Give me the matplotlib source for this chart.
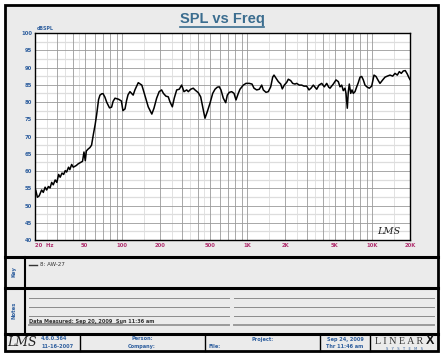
import matplotlib
matplotlib.use("Agg")
import matplotlib.pyplot as plt
from matplotlib.patches import Rectangle

# SPL response (Hz, dB SPL)
freq = [20.3, 20.9, 21.6, 22.6, 23.3, 24.1, 24.8, 25.6, 26.4, 27.2, 28.0, 29.0,
        29.9, 30.9, 31.8, 32.9, 33.9, 34.9, 35.8, 37.1, 38.0, 39.3, 40.5, 42.8,
        44.4, 47.0, 48.0, 49.3, 50.5, 51.5, 53.0, 55.0, 56.7, 58.6, 60.6, 62.3,
        64.5, 66.2, 68.6, 70.1, 72.5, 75.0, 78.9, 82.0, 84.3, 87.3, 93.2, 98.2,
        101, 105, 108, 111, 115, 122, 126, 134, 143, 147, 155, 161, 172, 179,
        188, 197, 206, 213, 223, 233, 240, 251, 260, 272, 285, 298, 311, 327,
        337, 352, 369, 381, 405, 423, 439, 458, 478, 502, 528, 551, 575, 596,
        615, 642, 671, 691, 717, 749, 782, 811, 846, 873, 928, 975, 1036, 1089,
        1130, 1187, 1246, 1302, 1341, 1409, 1470, 1537, 1594, 1633, 1694, 1768,
        1848, 1903, 1974, 2064, 2126, 2222, 2304, 2404, 2481, 2602, 2720, 2838,
        2982, 3112, 3228, 3368, 3476, 3586, 3741, 3932, 4126, 4312, 4474, 4582,
        4868, 5118, 5340, 5508, 5683, 5852, 6040, 6152, 6301, 6418, 6538, 6709,
        6871, 7038, 7262, 7492, 7716, 7962, 8216, 8462, 8730, 9108, 9450, 9876,
        10304, 10691, 11154, 11508, 12094, 12619, 13166, 13836, 14542, 15172,
        15830, 16424, 17038, 17678, 18342, 19030, 19526, 20000]
spl = [54.4, 52.4, 52.8, 54.5, 53.8, 55.3, 54.5, 55.5, 55.1, 56.7, 56.0, 57.4,
       56.7, 59.0, 58.2, 59.4, 59.0, 60.1, 59.7, 61.1, 60.4, 61.9, 61.1, 61.6,
       62.1, 62.6, 62.8, 65.5, 63.0, 65.8, 66.3, 66.8, 67.5, 70.6, 73.5, 76.4,
       80.7, 82.0, 82.4, 82.4, 81.4, 79.9, 78.3, 78.5, 80.2, 81.1, 80.8, 80.3,
       77.5, 78.0, 80.4, 82.1, 83.0, 82.0, 83.5, 85.6, 84.9, 83.5, 80.6, 78.6,
       76.5, 78.2, 81.1, 83.0, 83.5, 82.5, 81.7, 81.5, 80.1, 78.6, 81.1, 83.5,
       83.7, 84.9, 83.0, 83.5, 83.0, 83.7, 84.0, 83.5, 82.7, 81.5, 78.6, 75.3,
       77.2, 79.6, 82.5, 83.7, 84.3, 84.4, 83.5, 81.1, 79.8, 82.0, 82.8, 83.0,
       82.5, 80.6, 82.5, 83.7, 84.9, 85.4, 85.4, 85.2, 84.0, 83.5, 83.7, 84.9,
       83.5, 82.8, 83.0, 84.4, 87.2, 87.8, 86.9, 85.9, 85.2, 83.8, 84.9, 85.7,
       86.6, 86.2, 85.4, 85.2, 85.4, 84.9, 84.9, 84.6, 84.6, 83.5, 84.0, 84.9,
       84.3, 83.7, 84.9, 85.4, 84.4, 85.4, 84.3, 84.0, 85.2, 86.4, 85.9, 84.4,
       84.9, 83.3, 84.0, 82.5, 78.2, 83.0, 85.2, 82.5, 83.5, 82.5, 83.0, 84.4,
       85.6, 87.2, 87.4, 86.4, 84.9, 84.3, 84.0, 84.6, 87.8, 87.4, 86.2, 85.4,
       86.4, 87.2, 87.5, 87.8, 87.5, 88.3, 87.8, 88.8, 88.3, 89.0, 89.1, 88.1,
       87.2, 86.5]

y_ticks = list(range(40, 101, 5))
x_ticks = [20, 50, 100, 200, 500, 1000, 2000, 5000, 10000, 20000]
x_tick_labels = ['20  Hz', '50', '100', '200', '500', '1K', '2K', '5K', '10K', '20K']

blue = '#2f5f9e'
title_blue = '#3b6d8f'
red = '#b0306e'
bg = '#ebebeb'

fig = plt.figure(figsize=(4.45, 3.56), dpi=100)
fig.patch.set_facecolor('white')

# page drawn in pixel coordinates
page = fig.add_axes([0, 0, 1, 1])
page.set_xlim(0, 445)
page.set_ylim(356, 0)
page.axis('off')
page.add_patch(Rectangle((5, 5), 433, 346, facecolor=bg, edgecolor='black', lw=2))
for y in (257, 287.5, 334):
    page.plot([5, 438], [y, y], color='black', lw=2.2)
page.plot([25, 25], [257, 334], color='black', lw=1.5)
for x in (80, 205, 320, 370):
    page.plot([x, x], [334, 351], color='black', lw=1)

# title
t = page.text(222, 19, 'SPL vs Freq', ha='center', va='center', fontsize=10.5,
              fontweight='bold', color=title_blue, family='Liberation Sans')

# key panel
page.text(14, 272, 'Key', rotation=90, ha='center', va='center', fontsize=3.8,
          color=blue, fontweight='bold')
page.plot([29, 37], [264.5, 264.5], color='#333333', lw=1)
page.text(39.5, 264.5, '8: AW-27', ha='left', va='center', fontsize=4, color='#333333')

# notes panel
page.text(14, 310, 'Notes', rotation=90, ha='center', va='center', fontsize=3.8,
          color=blue, fontweight='bold')
for y in (297.5, 306.5, 315.5):
    page.plot([29, 229], [y, y], color='#8a8a8a', lw=0.7)
    page.plot([234, 434], [y, y], color='#8a8a8a', lw=0.7)
page.plot([29, 229], [325, 325], color='#9a9a9a', lw=1.4)
page.plot([234, 434], [325, 325], color='#9a9a9a', lw=1.4)
page.text(29, 321.5, 'Data Measured: Sep 20, 2009  Sun 11:36 am', ha='left', va='center',
          fontsize=3.6, fontweight='bold', color='#333333')
page.plot([29, 122], [323.3, 323.3], color='#333333', lw=0.4)

# footer
page.text(22, 343, 'LMS', ha='center', va='center', fontsize=9, style='italic',
          family='DejaVu Serif', color='#222222')
page.text(41, 339, '4.6.0.364', ha='left', va='center', fontsize=3.6, fontweight='bold', color=blue)
page.text(41, 346.5, '11-16-2007', ha='left', va='center', fontsize=3.6, fontweight='bold', color=blue)
page.text(142, 339, 'Person:', ha='center', va='center', fontsize=3.6, fontweight='bold', color=blue)
page.text(142, 346.5, 'Company:', ha='center', va='center', fontsize=3.6, fontweight='bold', color=blue)
page.text(263, 339, 'Project:', ha='center', va='center', fontsize=3.6, fontweight='bold', color=blue)
page.text(215, 346.5, 'File:', ha='center', va='center', fontsize=3.6, fontweight='bold', color=blue)
page.text(345, 339, 'Sep 24, 2009', ha='center', va='center', fontsize=3.6, fontweight='bold', color=blue)
page.text(345, 346.5, 'Thr 11:46 am', ha='center', va='center', fontsize=3.6, fontweight='bold', color=blue)
page.text(399, 341, 'L I N E A R', ha='center', va='center', fontsize=7.3,
          family='Liberation Serif', color='#333333')
page.text(430, 341, 'X', ha='center', va='center', fontsize=9, fontweight='bold',
          family='Liberation Sans', color='#111111')
page.text(404, 348.5, 'S   Y   S   T   E   M   S', ha='center', va='center', fontsize=2.6, color=blue)

# SPL chart
ax = fig.add_axes([35 / 445, 1 - 240 / 356, 375 / 445, 207 / 356])
ax.set_facecolor('white')
ax.set_xscale('log')
ax.set_xlim(20, 20000)
ax.set_ylim(40, 100)

for dec in (10, 100, 1000, 10000):
    for m in range(1, 10):
        f = dec * m
        if 20 < f < 20000:
            ax.axvline(f, color='#9a9a9a', lw=0.6, zorder=1)
        fh = dec * (m + 0.5)
        if 20 < fh < 20000 and m < 5:
            ax.axvline(fh, color='#dddddd', lw=0.6, zorder=0)
for v in range(40, 101, 5):
    ax.axhline(v, color='#9a9a9a', lw=0.6, zorder=1)
    ax.axhline(v + 2.5, color='#dddddd', lw=0.9, zorder=0)

ax.plot(freq, spl, color='black', lw=1.1, zorder=3)

ax.set_xticks(x_ticks)
ax.set_xticklabels(x_tick_labels)
ax.minorticks_off()
ax.set_yticks(y_ticks)
ax.tick_params(axis='both', length=0, labelsize=3.8, pad=2)
for lab in ax.get_xticklabels():
    lab.set_color(red)
    lab.set_fontweight('bold')
ax.get_xticklabels()[0].set_horizontalalignment('left')
for lab in ax.get_yticklabels():
    lab.set_color(blue)
    lab.set_fontweight('bold')
for s in ax.spines.values():
    s.set_color('black')
    s.set_linewidth(1)
ax.text(0.005, 1.012, 'dBSPL', transform=ax.transAxes, ha='left', va='bottom',
        fontsize=3.4, fontweight='bold', color=blue)
ax.text(0.975, 0.02, 'LMS', transform=ax.transAxes, ha='right', va='bottom',
        fontsize=7, style='italic', family='DejaVu Serif', color='#222222')

# underline the title
fig.canvas.draw()
bb = t.get_window_extent().transformed(page.transData.inverted())
page.plot([bb.x0, bb.x1], [bb.y0 + 1, bb.y0 + 1], color=title_blue, lw=1.2)

fig.savefig('out.png', dpi=100)
